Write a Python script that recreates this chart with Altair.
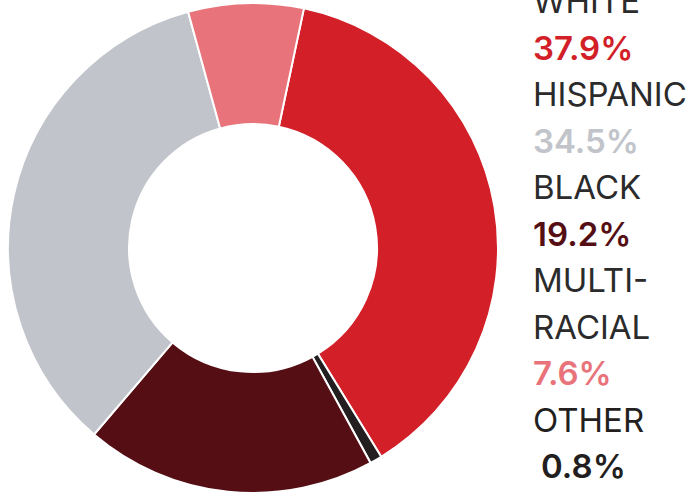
import altair as alt
import pandas as pd

categories = ["WHITE", "OTHER", "BLACK", "HISPANIC", "MULTIRACIAL"]
shares = [37.9, 0.8, 19.2, 34.5, 7.6]
colors = ["#d21f28", "#231f20", "#550f14", "#c1c4ca", "#e8737a"]

legend_lines = ["WHITE", "37.9%", "HISPANIC", "34.5%", "BLACK", "19.2%",
                "MULTI-", "RACIAL", "7.6%", "OTHER", "0.8%"]
legend_colors = ["#2b2b2b", "#d21f28", "#2b2b2b", "#c1c4ca", "#2b2b2b", "#550f14",
                 "#2b2b2b", "#2b2b2b", "#e8737a", "#231f20", "#231f20"]

pie_df = pd.DataFrame({"cat": categories, "value": shares,
                       "order": list(range(len(categories))), "color": colors})
text_df = pd.DataFrame({"line": legend_lines, "row": list(range(len(legend_lines))),
                        "color": legend_colors})

start = 12 * 3.14159265 / 180
arcs = alt.Chart(pie_df).mark_arc(
    outerRadius=245, innerRadius=124, stroke="white", strokeWidth=2
).encode(
    theta=alt.Theta("value:Q", stack=True,
                    scale=alt.Scale(range=[start, start + 2 * 3.14159265])),
    order=alt.Order("order:Q"),
    color=alt.Color("color:N", scale=None),
    x=alt.value(253),
    y=alt.value(248),
)

ypos = alt.Y("row:Q", scale=alt.Scale(domain=[0, 10], range=[13, 478]), axis=None)

labels = alt.Chart(text_df).transform_filter(
    "indexof(datum.line, '%') < 0"
).mark_text(
    align="left", baseline="alphabetic", fontSize=33, font="Inter", fontWeight=400
).encode(
    x=alt.value(533), y=ypos, text="line:N",
    color=alt.Color("color:N", scale=None),
)

pcts = alt.Chart(text_df).transform_filter(
    "indexof(datum.line, '%') >= 0 && datum.row < 10"
).mark_text(
    align="left", baseline="alphabetic", fontSize=33, font="Inter", fontWeight=600
).encode(
    x=alt.value(533), y=ypos, text="line:N",
    color=alt.Color("color:N", scale=None),
)

last_pct = alt.Chart(text_df).transform_filter(
    "datum.row == 10"
).mark_text(
    align="left", baseline="alphabetic", fontSize=33, font="Inter", fontWeight=600, dx=8
).encode(
    x=alt.value(533), y=ypos, text="line:N",
    color=alt.Color("color:N", scale=None),
)

chart = alt.layer(arcs, labels, pcts, last_pct).properties(
    width=695, height=495, padding=0,
    autosize=alt.AutoSizeParams(type="none"),
).configure_view(stroke=None)

chart.save("out.html", embed_options={"renderer": "svg", "actions": False})
